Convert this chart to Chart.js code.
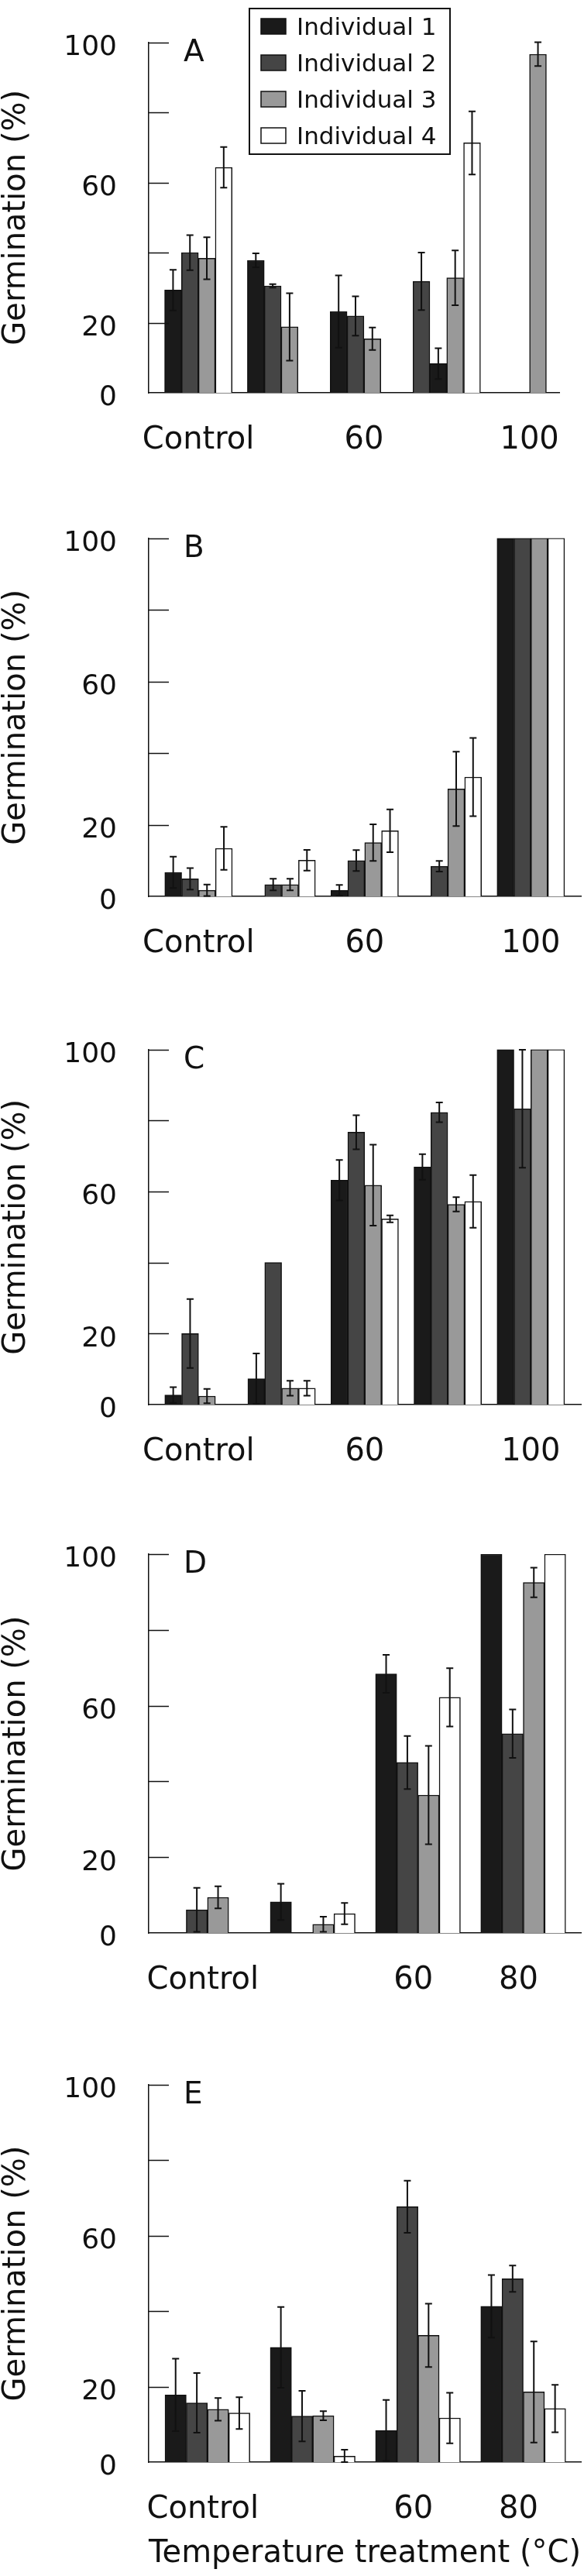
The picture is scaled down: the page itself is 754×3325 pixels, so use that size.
<!DOCTYPE html>
<html>
<head>
<meta charset="utf-8">
<title>Germination by temperature treatment</title>
<script src="https://cdn.jsdelivr.net/npm/chart.js@4.4.0/dist/chart.umd.min.js"></script>
<style>
  body { margin: 0; background: #fff; }
  #wrap { position: relative; width: 754px; height: 3325px; }
  #wrap canvas { position: absolute; left: 0; }
</style>
</head>
<body>
<div id="wrap">
  <canvas id="panelA" width="754" height="640" style="top:0px"></canvas>
  <canvas id="panelB" width="754" height="660" style="top:640px"></canvas>
  <canvas id="panelC" width="754" height="650" style="top:1300px"></canvas>
  <canvas id="panelD" width="754" height="660" style="top:1950px"></canvas>
  <canvas id="panelE" width="754" height="715" style="top:2610px"></canvas>
</div>
<script>
/*** data ***/
const seriesNames = ['Individual 1', 'Individual 2', 'Individual 3', 'Individual 4'];
const xLabels5 = ['Control', '', '60', '', '100'];
const xLabels4 = ['Control', '', '60', '80'];
const yTickLabels = [0, 20, 60, 100];

// one row per individual, one value per treatment (null = no bar)
const aMeans = [
  [29.3, 37.8, 23.2, 31.8, null],
  [40.0, 30.5, 21.9, 8.3, null],
  [38.4, 18.8, 15.4, 32.8, 96.6],
  [64.3, null, null, 71.3, null]
];
const aErrors = [
  [5.8, 2.0, 10.3, 8.2, 0],
  [5.0, 0.5, 5.6, 4.4, 0],
  [6.0, 9.6, 3.2, 7.8, 3.4],
  [5.8, 0, 0, 9.0, 0]
];

const bMeans = [
  [6.7, null, 1.7, null, 100],
  [4.9, 3.3, 10.0, 8.4, 100],
  [1.7, 3.3, 15.0, 30.0, 100],
  [13.4, 10.1, 18.3, 33.3, 100]
];
const bErrors = [
  [4.4, 0, 1.5, 0, 0],
  [3.0, 1.6, 2.9, 1.5, 0],
  [1.6, 1.6, 5.1, 10.4, 0],
  [6.0, 2.9, 6.0, 10.9, 0]
];

const cMeans = [
  [2.7, 7.3, 63.2, 66.9, 100],
  [20.0, 40.0, 76.7, 82.3, 83.3],
  [2.4, 4.6, 61.8, 56.4, 100],
  [null, 4.6, 52.3, 57.2, 100]
];
const cErrors = [
  [2.2, 7.1, 5.7, 3.6, 0],
  [9.7, 0, 4.8, 2.8, 16.6],
  [2.0, 2.1, 11.4, 2.0, 0],
  [0, 2.1, 1.0, 7.4, 0]
];

const dMeans = [
  [null, 8.2, 68.4, 100],
  [6.1, null, 45.0, 52.6],
  [9.4, 2.3, 36.4, 92.5],
  [null, 5.1, 62.2, 100]
];
const dErrors = [
  [0, 4.8, 5.0, 0],
  [5.8, 0, 7.0, 6.4],
  [2.9, 2.0, 13.0, 3.9],
  [0, 2.8, 7.7, 0]
];

const eMeans = [
  [17.8, 30.4, 8.4, 41.3],
  [15.7, 12.2, 67.7, 48.6],
  [14.0, 12.3, 33.6, 18.6],
  [13.0, 1.6, 11.7, 14.2]
];
const eErrors = [
  [9.6, 10.7, 8.1, 8.3],
  [7.9, 6.7, 6.9, 3.5],
  [3.0, 1.2, 8.4, 13.4],
  [4.2, 1.7, 6.7, 6.3]
];

/*** look ***/
const FONT = '"DejaVu Sans", sans-serif';
const INK = '#111';
const fills = ['#1a1a1a', '#454545', '#999999', '#ffffff'];
Chart.defaults.font.family = FONT;
Chart.defaults.color = INK;

/** error bars (symmetric, cut at 0) */
const errorBars = {
  id: 'errorBars',
  afterDatasetsDraw(chart) {
    const ctx = chart.ctx, y = chart.scales.y;
    ctx.save();
    ctx.strokeStyle = INK;
    ctx.lineWidth = 2;
    chart.data.datasets.forEach((ds, di) => {
      const meta = chart.getDatasetMeta(di);
      meta.data.forEach((bar, j) => {
        const pt = ds.data[j];
        const e = ds.errors[pt.x];
        if (!e) return;
        const top = y.getPixelForValue(pt.y + e);
        const bot = y.getPixelForValue(Math.max(0, pt.y - e));
        ctx.beginPath();
        ctx.moveTo(bar.x, top); ctx.lineTo(bar.x, bot);
        ctx.moveTo(bar.x - 4.5, top); ctx.lineTo(bar.x + 4.5, top);
        ctx.moveTo(bar.x - 4.5, bot); ctx.lineTo(bar.x + 4.5, bot);
        ctx.stroke();
      });
    });
    ctx.restore();
  }
};

/** inward tick marks + panel letter */
function decor(letter) {
  return {
    id: 'decor' + letter,
    afterDraw(chart) {
      const ctx = chart.ctx, y = chart.scales.y, area = chart.chartArea;
      ctx.save();
      ctx.strokeStyle = INK;
      ctx.lineWidth = 1.5;
      y.ticks.forEach(t => {
        if (t.value === 0) return;
        const py = Math.round(y.getPixelForValue(t.value)) + 0.5;
        ctx.beginPath();
        ctx.moveTo(area.left, py);
        ctx.lineTo(area.left + 26, py);
        ctx.stroke();
      });
      ctx.fillStyle = INK;
      ctx.font = '39px ' + FONT;
      ctx.textBaseline = 'alphabetic';
      ctx.fillText(letter, 237, area.top + 24);
      ctx.restore();
    }
  };
}

/** boxed legend, panel A only */
const boxLegend = {
  id: 'boxLegend',
  afterDraw(chart) {
    const ctx = chart.ctx;
    ctx.save();
    ctx.strokeStyle = INK;
    ctx.lineWidth = 2;
    ctx.strokeRect(322, 11, 259, 188);
    ctx.font = '31px ' + FONT;
    ctx.textBaseline = 'alphabetic';
    chart.data.datasets.forEach((ds, i) => {
      const base = 45 + i * 47;
      ctx.fillStyle = fills[i];
      ctx.fillRect(337, base - 21, 32, 20);
      ctx.lineWidth = 1.5;
      ctx.strokeRect(337, base - 21, 32, 20);
      ctx.fillStyle = INK;
      ctx.fillText(ds.label, 383, base);
    });
    ctx.restore();
  }
};

function drawPanel(id, letter, labels, means, errors, opt) {
  const datasets = seriesNames.map((name, s) => ({
    label: name,
    data: means[s].map((v, i) => ({ x: i, y: v })).filter(p => p.y !== null),
    errors: errors[s],
    backgroundColor: c => (c.raw && c.raw.x === opt.swapAt && s < 2) ? fills[1 - s] : fills[s],
    borderColor: INK,
    borderWidth: 1.5,
    barThickness: opt.barW
  }));

  const plugins = [errorBars, decor(letter)];
  if (opt.legend) plugins.push(boxLegend);

  return new Chart(document.getElementById(id), {
    type: 'bar',
    data: { datasets },
    plugins,
    options: {
      responsive: false,
      devicePixelRatio: 1,
      animation: false,
      layout: { padding: { top: opt.padTop, right: opt.padRight, left: 0, bottom: 0 } },
      plugins: { legend: { display: false }, tooltip: { enabled: false } },
      scales: {
        x: {
          type: 'linear',
          bounds: 'data',
          offset: false,
          min: opt.xmin,
          max: opt.xmax,
          grid: { display: false },
          border: { display: true, color: INK, width: 1.5 },
          afterBuildTicks: s => { s.ticks = labels.map((_, i) => ({ value: i })); },
          ticks: {
            autoSkip: false,
            maxRotation: 0,
            padding: 30,
            labelOffset: opt.lblOff || 0,
            color: INK,
            font: { size: 40 },
            callback: v => labels[v] ?? ''
          },
          title: {
            display: !!opt.xTitle,
            text: opt.xTitle || '',
            color: INK,
            font: { size: 40 },
            padding: { top: 0, bottom: 4 }
          },
          afterFit: s => { s.height = opt.xh; }
        },
        y: {
          min: 0,
          max: 100,
          grid: { display: false },
          border: { display: true, color: INK, width: 1.5 },
          ticks: {
            stepSize: 20,
            padding: 33,
            labelOffset: 7,
            color: INK,
            font: { size: 36 },
            callback: v => yTickLabels.includes(v) ? String(v) : ''
          },
          title: {
            display: true,
            text: 'Germination (%)',
            color: INK,
            font: { size: 40, lineHeight: 1.1 },
            padding: { top: 0, bottom: 0 }
          },
          afterFit: s => { s.width = 192; }
        }
      }
    }
  });
}

drawPanel('panelA', 'A', xLabels5, aMeans, aErrors,
  { padTop: 19, padRight: 30, xh: 133, xmin: -0.6, xmax: 4.36, barW: 21.8, swapAt: 3, legend: true });
drawPanel('panelB', 'B', xLabels5, bMeans, bErrors,
  { padTop: 30, padRight: 4, xh: 143, xmin: -0.6, xmax: 4.603, barW: 21.8 });
drawPanel('panelC', 'C', xLabels5, cMeans, cErrors,
  { padTop: 26, padRight: 4, xh: 137, xmin: -0.6, xmax: 4.603, barW: 21.8 });
drawPanel('panelD', 'D', xLabels4, dMeans, dErrors,
  { padTop: 56, padRight: 4, xh: 115, xmin: -0.558, xmax: 3.548, barW: 27.4, lblOff: -6 });
drawPanel('panelE', 'E', xLabels4, eMeans, eErrors,
  { padTop: 81, padRight: 4, xh: 147, xmin: -0.558, xmax: 3.548, barW: 27.4, lblOff: -6,
    xTitle: 'Temperature treatment (\u00B0C)' });
</script>
</body>
</html>
